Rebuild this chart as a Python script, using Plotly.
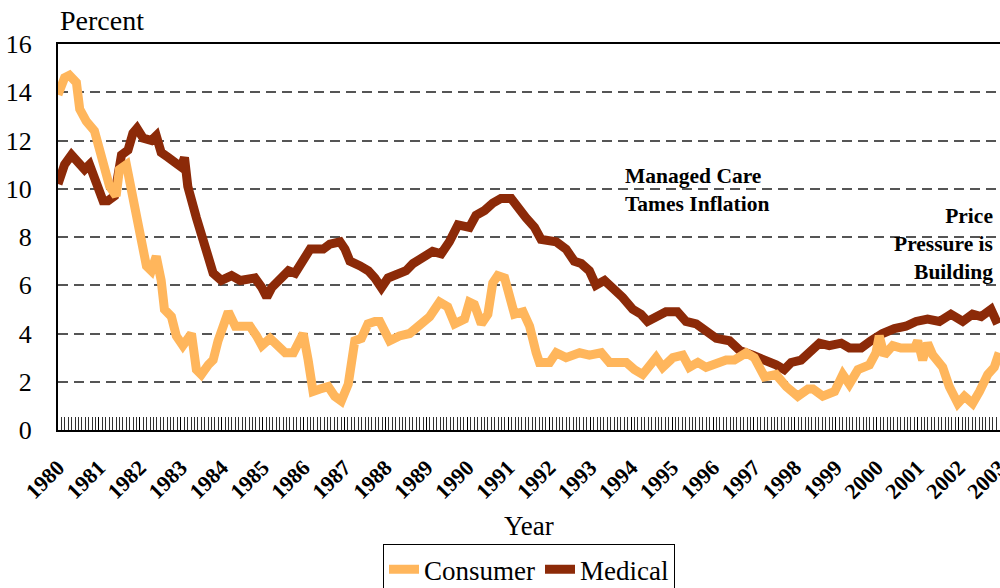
import plotly.graph_objects as go

# Decimal-year positions and percent values
consumer_t = [1980.00, 1980.16, 1980.28, 1980.45, 1980.53, 1980.69, 1980.89, 1981.02, 1981.14, 1981.26,
              1981.42, 1981.50, 1981.67, 1981.83, 1981.99, 1982.16, 1982.28, 1982.40, 1982.52, 1982.60,
              1982.77, 1982.89, 1983.05, 1983.26, 1983.38, 1983.50, 1983.67, 1983.79, 1983.91, 1984.04,
              1984.16, 1984.33, 1984.69, 1984.85, 1984.98, 1985.18, 1985.38, 1985.55, 1985.75, 1985.99,
              1986.11, 1986.23, 1986.40, 1986.60, 1986.76, 1986.92, 1987.09, 1987.25, 1987.41, 1987.57,
              1987.74, 1987.86, 1988.10, 1988.34, 1988.59, 1988.83, 1989.08, 1989.32, 1989.52, 1989.69,
              1989.93, 1990.05, 1990.17, 1990.34, 1990.50, 1990.62, 1990.74, 1990.91, 1991.03, 1991.15,
              1991.36, 1991.52, 1991.68, 1991.76, 1992.01, 1992.17, 1992.41, 1992.74, 1992.98, 1993.27,
              1993.47, 1993.88, 1994.08, 1994.28, 1994.61, 1994.77, 1995.02, 1995.26, 1995.42, 1995.63,
              1995.83, 1996.08, 1996.32, 1996.52, 1996.81, 1997.01, 1997.26, 1997.54, 1997.79, 1998.07,
              1998.32, 1998.44, 1998.68, 1998.97, 1999.17, 1999.33, 1999.54, 1999.82, 1999.98, 2000.06,
              2000.18, 2000.39, 2000.59, 2000.92, 2001.00, 2001.12, 2001.24, 2001.37, 2001.61, 2001.77,
              2001.98, 2002.14, 2002.34, 2002.51, 2002.71, 2002.87, 2002.99]
consumer_v = [13.9, 14.6, 14.7, 14.4, 13.3, 12.8, 12.4, 11.6, 10.9, 10.1,
              9.7, 10.8, 11.0, 9.5, 8.1, 6.8, 6.6, 7.2, 6.2, 5.0,
              4.7, 3.9, 3.5, 4.0, 2.5, 2.3, 2.7, 2.9, 3.7, 4.5,
              4.9, 4.3, 4.3, 3.9, 3.5, 3.8, 3.5, 3.2, 3.2, 4.0,
              2.9, 1.6, 1.7, 1.8, 1.4, 1.2, 1.9, 3.7, 3.8, 4.4,
              4.5, 4.5, 3.7, 3.9, 4.0, 4.3, 4.7, 5.3, 5.1, 4.4,
              4.6, 5.3, 5.2, 4.4, 4.8, 6.1, 6.4, 6.3, 5.5, 4.8,
              4.9, 4.3, 3.2, 2.8, 2.8, 3.2, 3.0, 3.2, 3.1, 3.2,
              2.8, 2.8, 2.5, 2.3, 3.0, 2.6, 3.0, 3.1, 2.6, 2.8,
              2.6, 2.8, 2.9, 2.9, 3.2, 3.0, 2.2, 2.3, 1.8, 1.4,
              1.7, 1.7, 1.4, 1.6, 2.3, 1.9, 2.5, 2.7, 3.2, 3.9,
              3.1, 3.5, 3.4, 3.4, 3.7, 2.9, 3.6, 3.1, 2.6, 1.8,
              1.1, 1.4, 1.1, 1.6, 2.3, 2.6, 3.2]

medical_t = [1980.00, 1980.16, 1980.33, 1980.53, 1980.65, 1980.77, 1980.94, 1981.10, 1981.22, 1981.38,
             1981.55, 1981.71, 1981.83, 1981.93, 1982.08, 1982.28, 1982.40, 1982.52, 1982.69, 1982.89,
             1983.01, 1983.09, 1983.17, 1983.38, 1983.58, 1983.79, 1983.99, 1984.24, 1984.45, 1984.65,
             1984.81, 1984.98, 1985.10, 1985.22, 1985.43, 1985.63, 1985.79, 1985.95, 1986.16, 1986.32,
             1986.48, 1986.64, 1986.89, 1987.01, 1987.13, 1987.38, 1987.58, 1987.74, 1987.90, 1988.06,
             1988.26, 1988.50, 1988.67, 1988.91, 1989.15, 1989.36, 1989.56, 1989.77, 1990.05, 1990.21,
             1990.42, 1990.62, 1990.82, 1991.07, 1991.23, 1991.43, 1991.64, 1991.80, 1992.17, 1992.41,
             1992.61, 1992.78, 1992.98, 1993.14, 1993.35, 1993.55, 1993.79, 1994.04, 1994.24, 1994.40,
             1994.60, 1994.85, 1995.13, 1995.34, 1995.59, 1995.83, 1996.08, 1996.40, 1996.65, 1996.97,
             1997.30, 1997.54, 1997.74, 1997.91, 1998.15, 1998.36, 1998.60, 1998.84, 1999.13, 1999.33,
             1999.62, 1999.86, 2000.14, 2000.43, 2000.71, 2000.96, 2001.24, 2001.53, 2001.81, 2002.10,
             2002.34, 2002.55, 2002.79, 2002.95]
medical_v = [10.2, 11.0, 11.4, 11.0, 10.8, 11.0, 10.2, 9.5, 9.5, 9.7,
             11.4, 11.6, 12.3, 12.5, 12.1, 12.0, 12.2, 11.5, 11.3, 11.0,
             10.9, 11.3, 10.1, 8.8, 7.6, 6.5, 6.2, 6.4, 6.2, 6.3,
             6.3, 5.9, 5.5, 5.9, 6.2, 6.6, 6.5, 7.0, 7.5, 7.5,
             7.5, 7.7, 7.8, 7.5, 7.0, 6.8, 6.6, 6.3, 5.9, 6.3,
             6.4, 6.6, 6.9, 7.1, 7.4, 7.3, 7.8, 8.5, 8.4, 8.9,
             9.1, 9.4, 9.6, 9.6, 9.2, 8.8, 8.4, 7.9, 7.8, 7.5,
             7.0, 6.9, 6.6, 6.0, 6.2, 5.9, 5.5, 5.0, 4.8, 4.5,
             4.7, 4.9, 4.9, 4.5, 4.4, 4.1, 3.8, 3.7, 3.3, 3.1,
             2.9, 2.7, 2.5, 2.8, 2.9, 3.2, 3.6, 3.5, 3.6, 3.4,
             3.4, 3.7, 4.0, 4.2, 4.3, 4.5, 4.6, 4.5, 4.8, 4.5,
             4.8, 4.7, 5.0, 4.4]

year_ticks = list(range(1980, 2004))
y_ticks = [0, 2, 4, 6, 8, 10, 12, 14, 16]

SERIF = "Liberation Serif, Times New Roman, serif"
CONSUMER = "#FFB65C"
MEDICAL = "#8C2A08"

fig = go.Figure()
fig.add_trace(go.Scatter(x=medical_t, y=medical_v, mode="lines", name="Medical",
                         line=dict(color=MEDICAL, width=9), legendrank=2))
fig.add_trace(go.Scatter(x=consumer_t, y=consumer_v, mode="lines", name="Consumer",
                         line=dict(color=CONSUMER, width=9), legendrank=1))

fig.update_layout(
    width=1000, height=588,
    margin=dict(l=58, r=0, t=44, b=158, autoexpand=False),
    paper_bgcolor="white", plot_bgcolor="white",
    font=dict(family=SERIF, color="black"),
    showlegend=True,
    legend=dict(orientation="h", x=0.5, xanchor="center", y=-0.296, yanchor="top",
                font=dict(family=SERIF, size=27), bordercolor="black", borderwidth=1,
                bgcolor="white", traceorder="normal", itemwidth=30),
)

fig.update_xaxes(
    range=[1980, 2003.01], tickvals=year_ticks, ticktext=["<b>%d</b>" % y for y in year_ticks],
    tickangle=-45, tickfont=dict(family=SERIF, size=22, color="black"),
    ticklabeloverflow="allow",
    showgrid=False, zeroline=False, automargin=False,
    showline=True, linecolor="black", linewidth=2, mirror=True,
    ticks="inside", ticklen=13, tickcolor="black", tickwidth=1,
    minor=dict(dtick=1 / 12, tick0=1980, ticks="inside", ticklen=13, tickcolor="#333", tickwidth=1, showgrid=False),
    ticklabelstandoff=14,
)
fig.update_yaxes(
    range=[0, 16], tickvals=y_ticks, tickfont=dict(family=SERIF, size=26, color="black"),
    showgrid=True, gridcolor="#555", gridwidth=1.5, griddash="10px,6px",
    zeroline=False, showline=True, linecolor="black", linewidth=2, automargin=False,
    ticks="", ticklabelstandoff=19,
)

fig.add_annotation(text="Percent", xref="paper", yref="paper", x=0, y=1.062,
                   xanchor="left", yanchor="middle", showarrow=False,
                   font=dict(family=SERIF, size=28, color="black"))
fig.add_annotation(text="Year", xref="paper", yref="paper", x=0.5, y=-0.248,
                   xanchor="center", yanchor="middle", showarrow=False,
                   font=dict(family=SERIF, size=27, color="black"))
fig.add_annotation(text="<b>Managed Care<br>Tames Inflation</b>", x=1993.79, y=9.94,
                   xanchor="left", yanchor="middle", align="left", showarrow=False,
                   font=dict(family=SERIF, size=21.5, color="black"))
fig.add_annotation(text="<b>Price<br>Pressure is<br>Building</b>", x=2002.89, y=7.7,
                   xanchor="right", yanchor="middle", align="right", showarrow=False,
                   font=dict(family=SERIF, size=21.5, color="black"))

# Remove the default page margin so the 1000x588 figure fills the window exactly
fig.write_html("out.html", config={"displayModeBar": False},
               post_script="document.body.style.margin='0';document.body.style.overflow='hidden';")
